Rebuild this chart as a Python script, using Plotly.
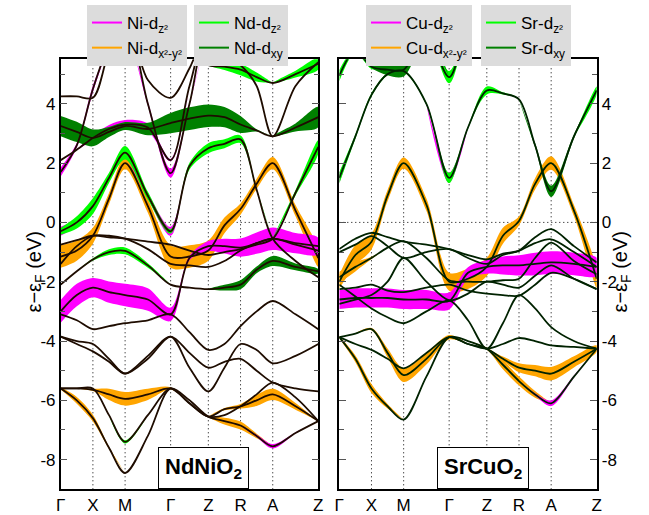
import plotly.graph_objects as go

# ---------------- k-path and axis labels ----------------
k_path = [0, 0.5, 1, 1.5, 2, 2.707, 3.414, 4.0, 4.585, 5.085, 5.585, 6.085, 6.585, 7.293, 8.0]
k_ticks = [0, 1, 2, 3.414, 4.585, 5.585, 6.585, 8.0]
k_labels = ["Γ", "X", "M", "Γ", "Z", "R", "A", "Z"]
e_ticks = [-8, -6, -4, -2, 0, 2, 4]
e_labels = ["-8", "-6", "-4", "-2", "0", "2", "4"]
e_minor = [-9, -7, -5, -3, -1, 1, 3, 5]

# ---------------- NdNiO2 bands (eV) at k_path ----------------
nno_dx2y2 = [-1.15, -0.95, -0.45, 0.8, 2.0, 0.55, -1.15, -1.15, -0.95, -0.1, 0.45, 1.3, 2.0, 0.4, -1.2]
nno_pocket = [-0.3, 0.0, 0.55, 1.5, 2.35, 0.9, -0.3, 1.9, 2.5, 2.65, 2.8, 1.1, -0.55, -1.3, -1.85]
nno_b4 = [1.7, 2.6, 4.5, 6.0, 7.0, 4.0, 1.66, 4.0, 6.5, 6.5, 6.5, 6.5, 6.5, 6.5, 6.5]
nno_b3 = [2.1, 2.45, 2.85, 3.15, 3.3, 3.2, 2.1, 4.6, 6.5, 6.5, 6.5, 6.5, 6.5, 6.5, 6.5]
nno_dxy = [3.25, 3.05, 2.85, 3.05, 3.25, 3.15, 3.35, 3.5, 3.6, 3.55, 3.3, 3.1, 2.9, 3.2, 3.55]
nno_vA = [6.5, 6.5, 6.5, 6.5, 6.5, 6.5, 6.5, 6.5, 6.0, 5.6, 5.3, 4.6, 2.9, 4.6, 5.4]
nno_top1 = [4.25, 4.25, 4.2, 5.8, 7.0, 4.8, 4.2, 5.2, 6.5, 6.5, 6.5, 6.5, 6.5, 6.5, 6.5]
nno_top2 = [6.5, 6.5, 6.5, 6.5, 6.5, 6.5, 6.5, 5.8, 5.3, 5.25, 5.15, 4.9, 4.7, 5.0, 5.35]
nno_t1 = [-1.4, -0.8, -0.45, -0.45, -0.55, -0.9, -1.4, -1.45, -1.5, -1.3, -0.95, -0.7, -0.55, -0.75, -0.95]
nno_t2 = [-2.1, -1.65, -1.25, -1.0, -0.96, -1.45, -2.1, -2.2, -2.25, -2.2, -2.1, -1.6, -1.3, -1.5, -1.65]
nno_t3 = [-0.75, -0.6, -0.45, -0.5, -0.55, -0.65, -0.75, -0.95, -1.1, -1.0, -0.9, -0.75, -0.55, 1.0, 2.55]
nno_dz2 = [-3.0, -2.45, -2.2, -2.35, -2.45, -2.6, -3.1, -1.2, -0.8, -0.8, -0.85, -0.7, -0.55, -0.7, -0.8]
nno_l1 = [-3.1, -3.3, -3.6, -3.5, -3.4, -3.3, -3.1, -3.7, -4.3, -4.1, -3.5, -3.0, -2.65, -3.1, -3.6]
nno_l2 = [-3.85, -4.1, -4.35, -4.7, -5.1, -4.5, -3.85, -4.9, -5.7, -4.9, -4.1, -4.3, -4.75, -4.5, -4.1]
nno_l3 = [-3.85, -4.0, -4.1, -4.6, -5.1, -4.6, -3.85, -4.4, -4.9, -4.7, -4.6, -5.0, -5.4, -5.6, -5.7]
nno_l4 = [-5.6, -5.6, -5.65, -5.8, -5.95, -5.8, -5.6, -6.1, -6.55, -6.3, -6.2, -6.0, -5.8, -6.2, -6.7]
nno_l5 = [-5.6, -5.6, -5.6, -6.5, -7.4, -6.5, -5.6, -6.1, -6.55, -6.5, -6.2, -5.8, -5.4, -5.9, -6.7]
nno_l6 = [-5.6, -6.0, -6.6, -7.6, -8.45, -7.2, -5.6, -6.0, -6.55, -6.7, -6.85, -7.2, -7.55, -7.1, -6.7]

# orbital weights (0..1) for NdNiO2
nno_w_x_orange = [1.0, 0.9, 0.7, 0.5, 0.55, 0.6, 1.0, 1.0, 0.9, 0.7, 0.5, 0.45, 0.55, 0.5, 0.8]
nno_w_pocket_green = [0.3, 0.55, 0.7, 0.45, 0.6, 0.35, 0.2, 0.3, 0.45, 0.4, 0.35, 0.1, 0, 0, 0]
nno_w_pocket_mag = [0.4, 0.3, 0, 0, 0, 0.25, 0.4, 0.1, 0, 0, 0, 0, 0, 0, 0]
nno_w_b4_mag = [0.4, 0.2, 0.3, 0, 0, 0.2, 0.4, 0.1, 0, 0, 0, 0, 0, 0, 0]
nno_w_b3_mag = [0, 0, 0.2, 0.35, 0.4, 0.35, 0.1, 0, 0, 0, 0, 0, 0, 0, 0]
nno_w_dxy_dg = [0.9, 0.9, 0.75, 0.45, 0.35, 0.55, 0.9, 1.0, 1.0, 0.9, 0.75, 0.1, 0, 0.35, 0.9]
nno_w_top2_green = [0, 0, 0, 0, 0, 0, 0, 0, 0, 0.3, 0.5, 0.4, 0, 0.3, 0.5]
nno_w_t2_green = [0, 0, 0.1, 0.25, 0.3, 0.2, 0, 0, 0, 0, 0, 0, 0, 0, 0]
nno_w_t2_dg = [0, 0, 0, 0, 0, 0, 0, 0, 0, 0.25, 0.4, 0.3, 0.45, 0.3, 0.2]
nno_w_t3_green = [0, 0, 0, 0, 0, 0, 0, 0, 0, 0, 0, 0, 0, 0.25, 0.6]
nno_w_dz2_mag = [1.0, 1.0, 0.85, 0.95, 1.0, 1.0, 0.6, 0.2, 0.45, 0.65, 0.8, 0.95, 1.0, 0.9, 0.75]
nno_w_l4_orange = [0, 0, 0.1, 0.5, 0.6, 0.5, 0.1, 0, 0, 0.1, 0.2, 0.5, 0.5, 0.3, 0]
nno_w_l5_green = [0, 0, 0, 0, 0.15, 0, 0, 0, 0, 0, 0, 0, 0, 0, 0]
nno_w_l6_orange = [0.1, 0.3, 0.3, 0.1, 0, 0, 0, 0, 0, 0.3, 0.35, 0.2, 0, 0, 0]
nno_w_l6_mag = [0, 0, 0, 0, 0, 0, 0, 0, 0, 0, 0, 0.1, 0.2, 0.05, 0]

# ---------------- SrCuO2 bands (eV) at k_path ----------------
sco_dx2y2 = [-2.0, -1.1, -0.65, 0.9, 2.0, 0.6, -2.0, -1.9, -1.5, -0.45, 0.05, 1.3, 2.0, 0.4, -1.9]
sco_sr = [1.5, 2.9, 4.3, 5.0, 5.1, 4.0, 1.5, 3.2, 4.45, 4.35, 4.15, 2.6, 1.05, 2.9, 4.45]
sco_top = [4.95, 5.8, 5.25, 5.15, 5.15, 6.3, 4.9, 6.5, 7.0, 7.0, 7.0, 7.0, 7.0, 7.0, 7.0]
sco_t1 = [-0.9, -0.55, -0.35, -0.5, -0.65, -0.75, -0.9, -1.1, -1.25, -1.05, -0.95, -0.5, -0.23, -0.8, -1.35]
sco_t2 = [-1.0, -0.75, -0.46, -0.8, -1.2, -1.0, -0.9, -1.2, -1.4, -1.1, -0.96, -0.7, -0.57, -1.0, -1.5]
sco_t3 = [-1.85, -1.5, -1.2, -0.85, -0.63, -1.2, -1.95, -2.0, -2.0, -1.95, -1.9, -1.2, -0.68, -1.3, -1.75]
sco_dz2 = [-2.6, -2.55, -2.55, -2.55, -2.6, -2.6, -2.65, -1.7, -1.5, -1.45, -1.45, -1.4, -1.35, -1.4, -1.5]
sco_t4 = [-2.25, -2.2, -2.1, -2.3, -2.35, -2.2, -2.1, -2.3, -2.4, -2.45, -2.47, -2.1, -1.7, -1.9, -2.25]
sco_t5 = [-2.1, -2.5, -2.9, -3.2, -3.4, -3.0, -2.63, -3.3, -4.26, -3.4, -2.45, -2.9, -3.53, -4.0, -4.26]
sco_t6 = [-2.75, -2.6, -2.45, -2.0, -1.2, -2.0, -2.63, -2.4, -2.0, -2.1, -2.2, -1.8, -1.45, -1.9, -2.25]
sco_l1 = [-3.87, -4.6, -5.6, -6.2, -6.65, -5.2, -3.87, -4.0, -4.26, -4.8, -5.35, -5.8, -6.1, -5.2, -4.26]
sco_l2 = [-3.87, -3.75, -3.6, -4.4, -5.15, -4.6, -3.87, -4.1, -4.26, -4.6, -4.9, -5.0, -5.1, -4.7, -4.26]
sco_l3 = [-3.87, -4.1, -4.3, -4.6, -4.92, -4.4, -3.87, -4.1, -4.26, -4.1, -3.9, -4.0, -4.15, -4.2, -4.26]

sco_w_x_orange = [0.6, 0.9, 0.7, 0.5, 0.5, 0.55, 0.8, 0.9, 0.8, 0.7, 0.4, 0.5, 0.6, 0.5, 0.8]
sco_w_sr_green = [0.5, 0.2, 0.15, 0.1, 0.1, 0.1, 0.45, 0.1, 0.35, 0.1, 0.05, 0, 0, 0, 0.35]
sco_w_sr_mag = [0.45, 0, 0, 0, 0, 0, 0.45, 0, 0, 0, 0, 0, 0, 0, 0]
sco_w_sr_dg = [0, 0, 0, 0, 0, 0, 0, 0, 0, 0, 0, 0.2, 0.5, 0.2, 0]
sco_w_top_green = [0.5, 0.2, 0.2, 0, 0, 0.1, 0.55, 0.2, 0, 0, 0, 0, 0, 0, 0]
sco_w_top_dg = [0, 0, 0.1, 0.5, 0.6, 0.4, 0, 0, 0, 0, 0, 0, 0, 0, 0]
sco_w_t3_orange = [0.5, 0.4, 0.1, 0, 0, 0, 0, 0, 0, 0, 0, 0, 0, 0, 0]
sco_w_dz2_mag = [0.85, 0.85, 0.85, 0.85, 0.85, 0.85, 0.75, 0.5, 0.6, 0.8, 0.9, 1.0, 1.0, 1.0, 0.8]
sco_w_l1_orange = [0.1, 0.3, 0.4, 0.2, 0, 0, 0, 0, 0.1, 0.4, 0.4, 0.3, 0, 0, 0]
sco_w_l1_mag = [0, 0, 0, 0, 0, 0, 0, 0, 0, 0, 0, 0.1, 0.25, 0.1, 0]
sco_w_l2_orange = [0, 0, 0.1, 0.4, 0.6, 0.5, 0.2, 0, 0, 0.2, 0.4, 0.5, 0.6, 0.5, 0.3]

# ---------------- styles ----------------
MAG, ORA, GRN, DGR = "#ff00ff", "#ffa500", "#00ff00", "#008000"
FONT = "Liberation Sans, Arial, Helvetica, sans-serif"
HALF = 0.38  # eV half-width for weight 1

panels = [
    dict(xa="x", ya="y",
         bands=[nno_dx2y2, nno_pocket, nno_b4, nno_b3, nno_dxy, nno_vA, nno_top1, nno_top2,
                nno_t1, nno_t2, nno_t3, nno_dz2, nno_l1, nno_l2, nno_l3, nno_l4, nno_l5, nno_l6],
         fat=[(nno_dx2y2, ORA, nno_w_x_orange), (nno_l4, ORA, nno_w_l4_orange), (nno_l6, ORA, nno_w_l6_orange),
              (nno_dz2, MAG, nno_w_dz2_mag), (nno_pocket, MAG, nno_w_pocket_mag), (nno_b4, MAG, nno_w_b4_mag),
              (nno_b3, MAG, nno_w_b3_mag), (nno_l6, MAG, nno_w_l6_mag),
              (nno_pocket, GRN, nno_w_pocket_green), (nno_top2, GRN, nno_w_top2_green),
              (nno_t2, GRN, nno_w_t2_green), (nno_l5, GRN, nno_w_l5_green), (nno_t3, GRN, nno_w_t3_green),
              (nno_dxy, DGR, nno_w_dxy_dg), (nno_t2, DGR, nno_w_t2_dg)],
         line="#1e0c00"),
    dict(xa="x2", ya="y2",
         bands=[sco_dx2y2, sco_sr, sco_top, sco_t1, sco_t2, sco_t3, sco_dz2, sco_t4, sco_t5, sco_t6,
                sco_l1, sco_l2, sco_l3],
         fat=[(sco_dx2y2, ORA, sco_w_x_orange), (sco_t3, ORA, sco_w_t3_orange), (sco_l1, ORA, sco_w_l1_orange),
              (sco_l2, ORA, sco_w_l2_orange),
              (sco_dz2, MAG, sco_w_dz2_mag), (sco_sr, MAG, sco_w_sr_mag), (sco_l1, MAG, sco_w_l1_mag),
              (sco_sr, GRN, sco_w_sr_green), (sco_top, GRN, sco_w_top_green),
              (sco_sr, DGR, sco_w_sr_dg), (sco_top, DGR, sco_w_top_dg)],
         line="#002200"),
]

fig = go.Figure()

for p in panels:
    for band, col, w in p["fat"]:
        n = len(k_path)
        i = 0
        while i < n:
            if w[i] > 0:
                s = max(i - 1, 0)
                j = i
                while j < n and w[j] > 0:
                    j += 1
                e = min(j, n - 1)
                idx = list(range(s, e + 1))
                xs = [k_path[t] for t in idx]
                up = [band[t] + HALF * w[t] for t in idx]
                lo = [band[t] - HALF * w[t] for t in idx]
                fig.add_trace(go.Scatter(
                    x=xs + xs[::-1], y=up + lo[::-1], mode="lines",
                    line=dict(width=0, shape="spline", smoothing=0.9, color=col),
                    fill="toself", fillcolor=col, xaxis=p["xa"], yaxis=p["ya"],
                    hoverinfo="skip", showlegend=False))
                i = j
            else:
                i += 1
    for band in p["bands"]:
        fig.add_trace(go.Scatter(
            x=k_path, y=band, mode="lines",
            line=dict(color=p["line"], width=1.8, shape="spline", smoothing=0.9),
            xaxis=p["xa"], yaxis=p["ya"], hoverinfo="skip", showlegend=False))

leg_items = [
    ("Ni-d<sub>z²</sub>", MAG, "legend"), ("Ni-d<sub>x²-y²</sub>", ORA, "legend"),
    ("Nd-d<sub>z²</sub>", GRN, "legend2"), ("Nd-d<sub>xy</sub>", DGR, "legend2"),
    ("Cu-d<sub>z²</sub>", MAG, "legend3"), ("Cu-d<sub>x²-y²</sub>", ORA, "legend3"),
    ("Sr-d<sub>z²</sub>", GRN, "legend4"), ("Sr-d<sub>xy</sub>", DGR, "legend4"),
]
for name, col, lg in leg_items:
    left = lg in ("legend", "legend2")
    fig.add_trace(go.Scatter(x=[None], y=[None], mode="lines", name=name,
                             line=dict(color=col, width=2), legend=lg,
                             xaxis="x" if left else "x2", yaxis="y" if left else "y2"))

W, H = 649, 515
xd1 = [60.7 / W, 318.3 / W]
xd2 = [339.3 / W, 596.7 / W]
yd = [(H - 489.3) / H, (H - 59.3) / H]

def xax(dom):
    return dict(domain=dom, range=[0, 8], tickvals=k_ticks, ticktext=k_labels, ticks="",
                showline=True, linecolor="black", linewidth=1.5, mirror=True,
                showgrid=False, zeroline=False, tickfont=dict(size=17, color="black", family=FONT),
                automargin=False)

def yax(side, anchor):
    return dict(domain=yd, range=[-9, 5.5], tickvals=e_ticks, ticktext=e_labels,
                ticks="inside", ticklen=7, tickwidth=1.3, tickcolor="#555",
                minor=dict(tickvals=e_minor, ticks="inside", ticklen=5, tickwidth=1.2, tickcolor="#555"),
                showline=True, linecolor="black", linewidth=1.5, mirror="ticks", side=side,
                anchor=anchor, showgrid=False, zeroline=False,
                tickfont=dict(size=17, color="black", family=FONT), automargin=False)

shapes = []
for xa in ("x", "x2"):
    for kv in k_ticks[1:-1]:
        shapes.append(dict(type="line", xref=xa, yref=("y domain" if xa == "x" else "y2 domain"),
                           x0=kv, x1=kv, y0=0, y1=1, layer="below",
                           line=dict(color="black", width=1, dash="1px,3px")))
    shapes.append(dict(type="line", xref=xa + " domain", yref=("y" if xa == "x" else "y2"),
                       x0=0, x1=1, y0=0, y1=0, layer="below",
                       line=dict(color="black", width=1, dash="1px,3px")))

def leg(x0):
    return dict(x=x0 / W, y=1 - 5 / H, xanchor="left", yanchor="top", bgcolor="#dcdcdc",
                borderwidth=0, font=dict(size=17, color="black", family=FONT),
                tracegroupgap=0, itemwidth=30)

annotations = [
    dict(text="<b>NdNiO<sub>2</sub></b>", x=203.5 / W, y=yd[0], xref="paper", yref="paper",
         xanchor="center", yanchor="bottom", showarrow=False, bgcolor="white",
         bordercolor="black", borderwidth=1, borderpad=6, font=dict(size=22, color="black", family=FONT)),
    dict(text="<b>SrCuO<sub>2</sub></b>", x=483 / W, y=yd[0], xref="paper", yref="paper",
         xanchor="center", yanchor="bottom", showarrow=False, bgcolor="white",
         bordercolor="black", borderwidth=1, borderpad=6, font=dict(size=22, color="black", family=FONT)),
    dict(text="ε−ε<sub>F</sub> (eV)", x=20 / W, y=1 - 272 / H, xref="paper", yref="paper",
         textangle=-90, showarrow=False, font=dict(size=20, color="black", family=FONT)),
    dict(text="ε−ε<sub>F</sub> (eV)", x=635 / W, y=1 - 272 / H, xref="paper", yref="paper",
         textangle=-90, showarrow=False, font=dict(size=20, color="black", family=FONT)),
]

fig.update_layout(
    width=W, height=H, margin=dict(l=0, r=0, t=0, b=0),
    paper_bgcolor="white", plot_bgcolor="white",
    xaxis=xax(xd1), xaxis2=xax(xd2),
    yaxis=yax("left", "x"), yaxis2=yax("right", "x2"),
    shapes=shapes, annotations=annotations,
    legend=leg(87), legend2=leg(194), legend3=leg(366), legend4=leg(481),
    font=dict(family=FONT),
)

fig.write_html("out.html", config={"displayModeBar": False},
               post_script="document.body.style.margin='0';document.body.style.overflow='hidden';")
